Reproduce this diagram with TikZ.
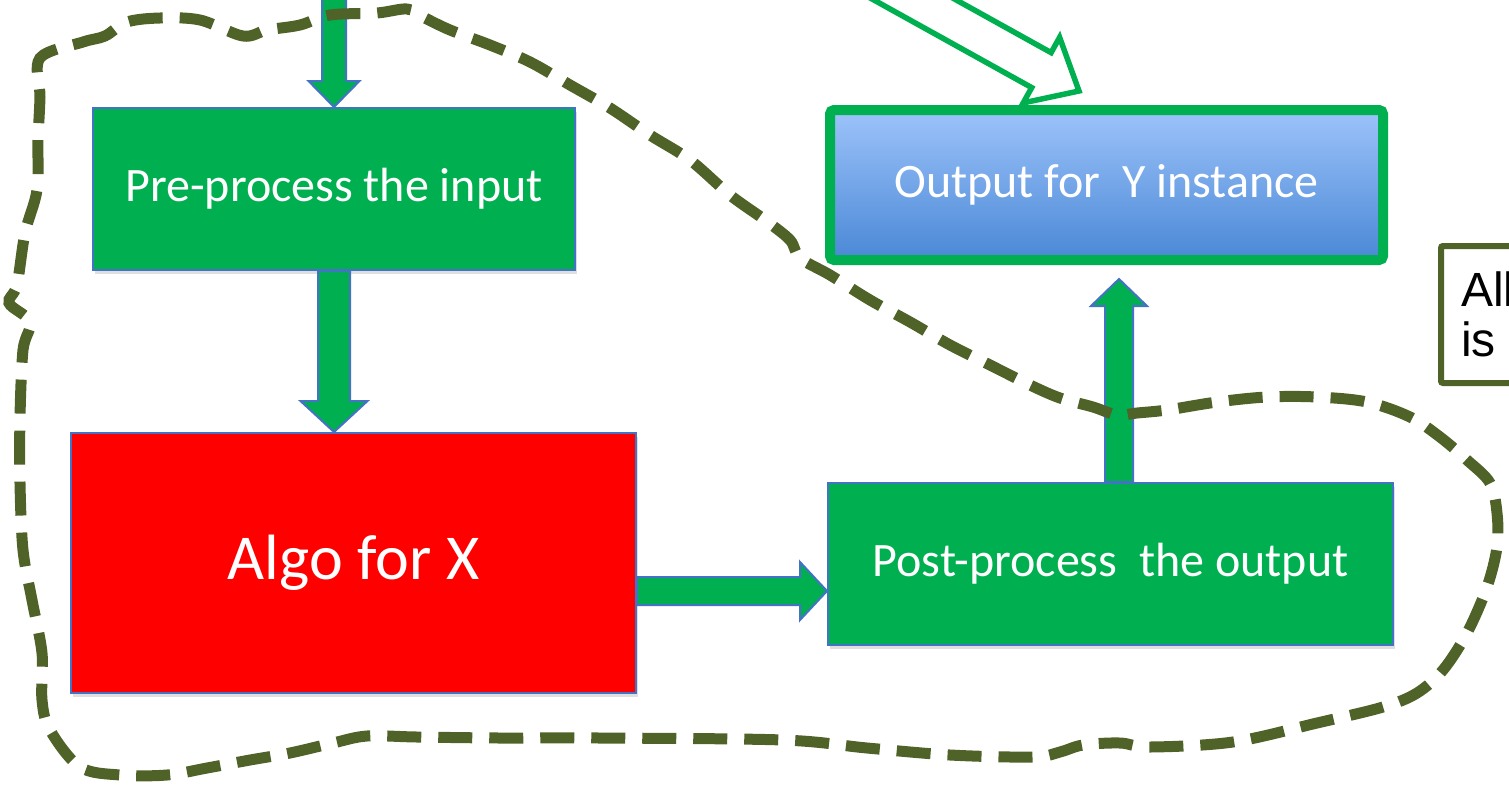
\documentclass[tikz,border=0pt]{standalone}
\usepackage{fontspec}
\setmainfont{Carlito}
\newfontfamily\notefont{Liberation Sans}
\usetikzlibrary{calc,shadows}

\definecolor{boxgreen}{HTML}{00B050}
\definecolor{edgeblue}{HTML}{4472C4}
\definecolor{algored}{HTML}{FF0000}
\definecolor{outtop}{HTML}{9DC3FA}
\definecolor{outbottom}{HTML}{4A88D6}
\definecolor{olive}{HTML}{4F6228}

% block arrow: #1 style, #2 from, #3 to, #4 half shaft, #5 half head, #6 head length
\newcommand{\blockarrow}[6]{%
  \coordinate (ba-base) at ($(#3)!#6!(#2)$);
  \draw[#1] ($(#2)!#4!90:(#3)$) -- ($(ba-base)!#4!-90:(#2)$)
    -- ($(ba-base)!#5!-90:(#2)$) -- (#3)
    -- ($(ba-base)!#5!90:(#2)$) -- ($(ba-base)!#4!90:(#2)$)
    -- ($(#2)!#4!-90:(#3)$) -- cycle;
}

\begin{document}
\begin{tikzpicture}[x=0.5pt, y=-0.5pt,
    box/.style={draw=edgeblue, line width=1pt, fill=boxgreen, text=white,
      inner sep=0pt, font=\fontsize{24}{28}\selectfont,
      drop shadow={opacity=.25, shadow xshift=1pt, shadow yshift=-2pt}},
    outbox/.style={draw=boxgreen, line width=5pt, rounded corners=2pt,
      top color=outtop, bottom color=outbottom, text=white, inner sep=0pt,
      font=\fontsize{24}{28}\selectfont,
      drop shadow={opacity=.25, shadow xshift=1pt, shadow yshift=-2pt}},
    notebox/.style={draw=olive, line width=3pt, fill=white, rounded corners=1pt,
      align=left, inner xsep=10pt, text width=180pt,
      font=\notefont\fontsize{24}{25}\selectfont},
    blockarrow/.style={draw=edgeblue, line width=1pt, fill=boxgreen, line join=miter},
    hollowarrow/.style={draw=boxgreen, line width=2.75pt, fill=white, line join=miter},
    fence/.style={draw=olive, line width=5.5pt, dash pattern=on 17pt off 8.5pt}]
  \useasboundingbox (0,0) rectangle (1509,793);

  % the boxes
  \node[box, minimum width=241pt, minimum height=81pt] (pre) at (334,189) {Pre-process the input};
  \node[box, fill=algored, minimum width=282.5pt, minimum height=130pt,
    font=\fontsize{32}{36}\selectfont] (algo) at (353.5,563) {Algo for X};
  \node[box, minimum width=282.5pt, minimum height=81pt] (post) at (1110.5,564) {Post-process\ \ the output};
  \node[outbox, minimum width=276.5pt, minimum height=75pt] (out) at (1106.5,185) {Output for\ \ Y instance};
  \node[notebox, anchor=north west, minimum height=68.5pt] (note) at (1438,243) {All\\is};

  % arrows between the boxes
  \coordinate (feed) at ([yshift=120pt]pre.north);
  \blockarrow{blockarrow}{feed}{pre.north}{6pt}{12.75pt}{13pt}
  \blockarrow{blockarrow}{pre.south}{pre.south |- algo.north}{8pt}{16.75pt}{15.5pt}
  \blockarrow{blockarrow}{[yshift=-14pt]algo.east}{[yshift=-14pt]algo.east -| post.west}{7pt}{14.5pt}{13.5pt}
  \blockarrow{blockarrow}{[xshift=4.25pt]post.north}{[xshift=4.25pt,yshift=-7pt]post.north |- out.south}{7pt}{14pt}{13.5pt}

  % hollow arrow coming in from above
  \coordinate (ytail) at (780,-75);
  \coordinate (ytip) at (1079,91);
  \blockarrow{hollowarrow}{ytail}{ytip}{10pt}{18.75pt}{21.5pt}

  % dashed boundary
  \draw[fence] plot[smooth cycle, tension=0.55] coordinates {
    (40,58) (83,42) (105,36) (127,22) (160,18) (200,20) (243,36) (267,30)
    (300,25) (330,15) (377,13) (407,9) (423,17) (450,30) (490,45) (530,62)
    (570,85) (610,108) (650,135) (690,160) (730,195) (765,220) (790,240)
    (800,258) (830,275) (870,300) (910,322) (950,345) (990,365) (1030,385)
    (1060,398) (1093,407) (1117,415) (1137,413) (1167,410) (1217,402)
    (1267,397) (1317,397) (1367,402) (1410,417) (1440,437) (1467,460)
    (1490,483) (1497,513) (1497,547) (1487,587) (1467,633) (1443,670)
    (1417,693) (1383,707) (1317,723) (1233,742) (1150,747) (1120,743)
    (1083,745) (1060,752) (1033,757) (950,755) (867,748) (783,740)
    (600,738) (500,738) (417,737) (367,736) (333,743) (290,753) (250,760)
    (207,768) (167,775) (120,775) (80,767) (50,730) (42,700) (42,653)
    (32,600) (23,550) (20,483) (20,417) (23,350) (30,322) (9,303) (17,285)
    (25,233) (37,190) (38,140) (40,97)};
\end{tikzpicture}
\end{document}
